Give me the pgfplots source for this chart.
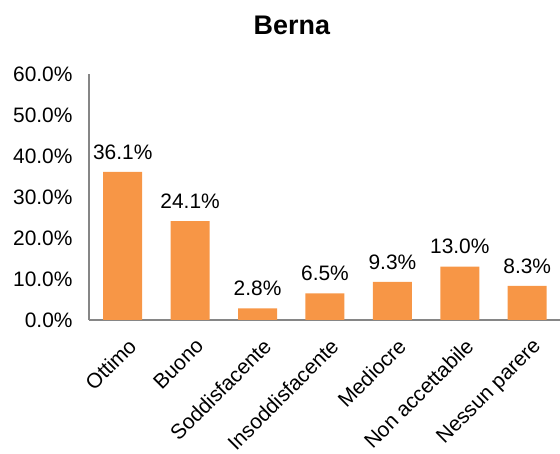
\documentclass[border=0pt]{standalone}
\usepackage{fontspec}
\setmainfont{Liberation Sans}
\usepackage{pgfplots}
\pgfplotsset{compat=1.18}
\definecolor{barorange}{HTML}{F79646}
\definecolor{axisgray}{HTML}{868686}

\begin{document}
\begin{tikzpicture}
\begin{axis}[
  scale only axis,
  width=472bp, height=246bp,
  ybar, bar width=39bp,
  ymin=0, ymax=60, ytick={0,10,...,60},
  xmin=-0.5, xmax=6.5,
  xtick=data,
  xticklabels={Ottimo,Buono,Soddisfacente,Insoddisfacente,Mediocre,Non accettabile,Nessun parere},
  axis x line=bottom, axis y line=left,
  axis line style={axisgray, line width=1.2pt, -},
  major tick length=0pt,
  clip=false,
  /pgf/number format/assume math mode=true,
  yticklabel={\pgfmathprintnumber[fixed,fixed zerofill,precision=1]{\tick}\%},
  ticklabel style={font=\fontsize{21}{25}\selectfont},
  yticklabel style={xshift=-13bp},
  xticklabel style={rotate=45, anchor=north east, inner sep=1bp, xshift=-8bp, yshift=-14bp},
  nodes near coords={\pgfmathprintnumber[fixed,fixed zerofill,precision=1]{\pgfplotspointmeta}\%},
  every node near coord/.append style={font=\fontsize{21}{25}\selectfont, black, yshift=9bp},
  title={\textbf{Berna}},
  title style={font=\fontsize{27}{32}\selectfont, at={(0.43,1)}, anchor=base, yshift=34bp},
]
\addplot[fill=barorange, draw=none] coordinates {(0,36.1) (1,24.1) (2,2.8) (3,6.5) (4,9.3) (5,13.0) (6,8.3)};
\coordinate (bbsw) at (rel axis cs:-0.1886,-0.5447);
\coordinate (bbne) at (rel axis cs:0.998,1.3008);
\end{axis}
\pgfresetboundingbox
\path (bbsw) rectangle (bbne);
\end{tikzpicture}
\end{document}
